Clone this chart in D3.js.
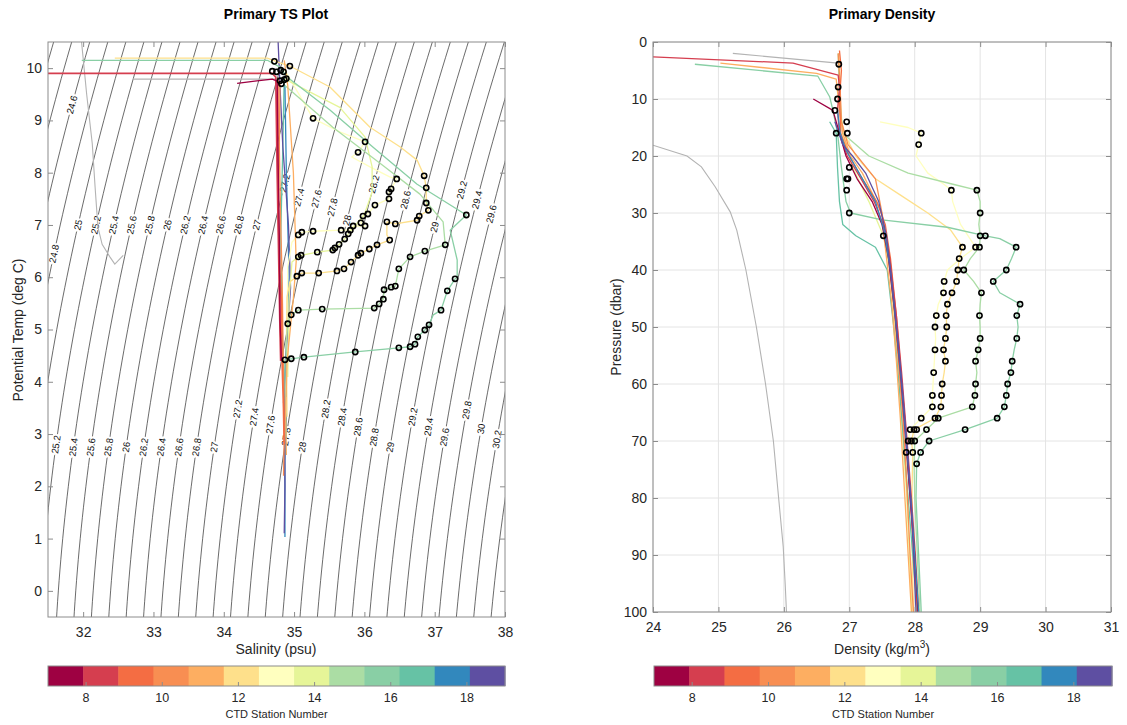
<!DOCTYPE html>
<html>
<head>
<meta charset="utf-8">
<script src="https://cdn.jsdelivr.net/npm/d3@7"></script>
<style>
  body { margin: 0; background: #fff; }
  svg { font-family: "Liberation Sans", Arial, Helvetica, sans-serif; }
</style>
</head>
<body>
<svg id="chart" width="1127" height="725"></svg>
<script>
// ---- colormap / stations ----
const stationColors = ["#9e0142", "#d53e4f", "#f46d43", "#f88e52", "#fdae61", "#fee08b", "#ffffbf",
                       "#e6f598", "#abdda4", "#89cfa5", "#66c2a5", "#3288bd", "#5e4fa2"];
const stationTicks = [8, 10, 12, 14, 16, 18];
const grayColor = "#b3b3b3";

// isopycnal levels (sigma-theta) and label positions [level, temp]
const isoLevels = [24.0, 24.2, 24.4, 24.6, 24.8, 25.0, 25.2, 25.4, 25.6, 25.8, 26.0, 26.2, 26.4, 26.6, 26.8,
                   27.0, 27.2, 27.4, 27.6, 27.8, 28.0, 28.2, 28.4, 28.6, 28.8, 29.0, 29.2, 29.4, 29.6, 29.8,
                   30.0, 30.2, 30.4, 30.6];
const isoLabels = [[24.6, 9.3], [24.8, 6.45], [25, 7.0], [25.2, 7.0], [25.4, 7.0], [25.6, 7.0], [25.8, 7.0],
                   [26, 7.0], [26.2, 7.0], [26.4, 7.0], [26.6, 7.0], [26.8, 7.0], [27, 7.0], [27.2, 7.8],
                   [27.4, 7.53], [27.6, 7.5], [27.8, 7.34], [28, 7.09], [28.2, 7.78], [28.6, 7.48], [29, 6.96],
                   [29.2, 7.67], [29.4, 7.48], [29.6, 7.21],
                   [25.2, 2.8], [25.4, 2.75], [25.6, 2.75], [25.8, 2.75], [26, 2.75], [26.2, 2.75], [26.4, 2.75],
                   [26.6, 2.75], [26.8, 2.75], [27, 2.75], [27.2, 3.48], [27.4, 3.33], [27.6, 3.18], [27.8, 2.95],
                   [28, 2.75], [28.2, 3.48], [28.4, 3.33], [28.6, 3.14], [28.8, 2.94], [29, 2.75], [29.2, 3.33],
                   [29.4, 3.14], [29.6, 2.94], [29.8, 3.46], [30, 3.1], [30.2, 2.9]];

// ---- TS profiles [salinity, potential temp] ----
const tsSt7 = [[34.19,9.71],[34.44,9.75],[34.69,9.79],[34.76,9.75],[34.77,8.5],[34.79,6.8],[34.80,5.2],[34.82,4.4]];
const tsSt8 = [[31.3,9.90],[34.69,9.90],[34.74,9.83],[34.76,8.0],[34.78,6.5],[34.80,5.0],[34.81,4.4]];
const tsSt9 = [[34.77,9.8],[34.77,8.0],[34.78,7.0],[34.80,6.0],[34.82,5.5],[34.83,4.4],[34.85,3.5],[34.86,2.8]];
const tsSt10 = [[34.80,9.75],[34.79,8.5],[34.81,7.0],[34.83,6.0],[34.84,5.0],[34.85,4.0],[34.86,3.0],[34.85,2.2]];
const tsSt11 = [[34.86,10.15],[34.91,9.67],[34.99,8.0],[35.03,6.3],[34.99,5.6],[34.90,4.4],[34.88,3.4],[34.89,2.6]];
const tsSt12 = [[32.45,10.19],[34.62,10.19],[34.80,10.10],[34.94,10.04],[35.51,9.64],[36.08,8.87],[36.51,8.49],
                [36.75,8.24],[36.85,7.94],[36.88,7.71],[36.88,7.42],[36.91,7.28],[36.78,7.17],[36.75,7.09],
                [36.44,7.02],[36.32,7.06],[36.32,6.81],[36.36,6.71],[36.18,6.62],[36.07,6.54],[35.95,6.46],
                [35.91,6.42],[35.81,6.29],[35.71,6.16],[35.61,6.12],[35.35,6.08],[35.11,6.08],[35.04,6.02],
                [34.94,5.91],[34.90,5.62],[34.89,4.67],[34.90,3.33]];
const tsSt13 = [[34.86,9.98],[35.27,9.04],[35.65,8.78],[36.01,8.59],[35.91,8.39],[35.82,8.30],[36.08,8.11],
                [36.36,7.92],[36.46,7.88],[36.38,7.69],[36.35,7.63],[36.35,7.50],[36.15,7.38],[36.05,7.21],
                [35.98,7.17],[35.95,7.04],[36.01,6.98],[35.84,6.98],[35.80,6.90],[35.67,6.90],[35.27,6.88],
                [35.11,6.86],[35.06,6.81],[34.97,6.67],[34.91,6.20],[34.90,5.05]];
const tsSt14 = [[34.87,9.79],[35.65,9.25],[36.01,8.68],[36.11,8.11],[36.11,7.63],[36.0,7.2],[35.77,6.83],
                [35.72,6.73],[35.64,6.63],[35.58,6.56],[35.55,6.52],[35.33,6.48],[35.10,6.42],[35.06,6.39],
                [34.97,6.29],[34.93,5.62],[34.91,4.09]];
const tsSt15 = [[34.87,9.67],[35.55,8.87],[36.25,8.15],[36.79,7.59],[37.12,7.06],[37.15,6.62],[36.86,6.50],
                [36.65,6.39],[36.49,6.16],[36.44,5.83],[36.38,5.81],[36.28,5.76],[36.27,5.58],[36.21,5.49],
                [36.14,5.41],[35.40,5.39],[35.06,5.37],[34.96,5.28],[34.91,5.11],[34.89,4.76],[34.89,3.71]];
const tsSt16 = [[31.98,10.15],[34.62,10.15],[34.80,10.02],[34.90,9.83],[35.51,9.20],[36.12,8.49],[36.75,7.78],
                [37.45,7.19],[37.22,6.9],[37.32,6.33],[37.32,6.0],[37.29,5.97],[37.18,5.74],[37.09,5.37],
                [36.98,5.28],[36.92,5.09],[36.86,4.99],[36.76,4.86],[36.72,4.72],[36.65,4.67],[36.49,4.65],
                [35.87,4.57],[35.14,4.47],[34.96,4.44],[34.87,4.42],[34.87,3.9],[34.89,2.94]];
const tsSt17 = [[34.86,9.83],[34.84,8.5],[34.81,6.8],[34.83,5.2],[34.85,4.0],[34.87,3.3],[34.88,2.6]];
const tsSt18 = [[34.87,9.67],[34.89,8.0],[34.93,6.0],[34.90,5.0],[34.87,4.2],[34.85,3.6],[34.89,3.3],[34.87,2.5],[34.87,1.03]];
const tsSt19 = [[34.77,10.6],[34.80,9.64],[34.84,8.5],[34.92,7.0],[34.95,5.8],[34.90,4.8],[34.86,3.8],[34.87,2.0],[34.86,1.1]];
const tsGrayA = [[31.97,10.6],[32.05,9.50],[32.13,8.55],[32.17,7.72],[32.21,6.96],[32.27,6.63],[32.38,6.39],[32.45,6.25],[32.57,6.42]];
const tsGrayB = [[32.71,9.79],[34.80,9.79]];

const tsMarks = [
  [34.72,10.13],[34.94,10.04],[34.69,9.94],[34.75,9.93],[34.81,9.96],[34.85,9.93],[34.80,9.76],[34.86,9.78],[34.89,9.80],[34.82,9.70],
  [35.27,9.04],[36.01,8.59],[35.91,8.39],
  [36.85,7.94],[36.46,7.88],[36.88,7.71],[36.38,7.69],[36.35,7.63],[36.35,7.50],[36.88,7.42],[36.91,7.28],[36.15,7.38],
  [36.05,7.21],[35.98,7.17],[36.78,7.17],[36.75,7.09],[36.32,7.06],[36.44,7.02],[35.95,7.04],[36.01,6.98],[35.84,6.98],
  [35.80,6.90],[35.67,6.90],[35.27,6.88],[35.11,6.86],[35.06,6.81],
  [35.77,6.83],[35.72,6.73],[35.64,6.63],[35.58,6.56],[35.55,6.52],[35.33,6.48],[35.10,6.42],[35.06,6.39],
  [36.36,6.71],[36.18,6.62],[36.07,6.54],[35.95,6.46],[35.91,6.42],[35.81,6.29],[35.71,6.16],[35.61,6.12],[35.35,6.08],
  [35.11,6.08],[35.04,6.02],
  [37.45,7.19],[37.15,6.62],[36.86,6.50],[36.65,6.39],[36.49,6.16],[37.29,5.97],[37.18,5.74],[37.09,5.37],[36.44,5.83],
  [36.38,5.81],[36.28,5.76],[36.27,5.58],[36.21,5.49],[36.14,5.41],[35.40,5.39],[35.06,5.37],[34.96,5.28],[34.91,5.11],
  [36.92,5.09],[36.86,4.99],[36.76,4.86],[36.72,4.72],[36.65,4.67],[36.49,4.65],[35.87,4.57],[35.14,4.47],[34.96,4.44],[34.87,4.42]
];

// ---- density profiles [density, pressure] ----
const denSt7 = [[26.45,10],[26.75,12],[26.85,16],[26.95,20],[27.12,24],[27.35,28],[27.5,32],[27.6,38],[27.7,48],[27.78,58],[27.85,68],[27.93,80],[28.0,90],[28.05,100]];
const denSt8 = [[24.0,2.6],[26.14,3.7],[26.83,5.8],[26.85,8],[26.82,12],[26.85,16],[26.97,20],[27.18,24],[27.38,28],[27.52,32],[27.62,38],[27.72,48],[27.8,58],[27.87,68],[27.95,80],[28.01,90],[28.06,100]];
const denSt9 = [[26.85,1.5],[26.88,5],[26.85,10],[26.87,16],[27.0,20],[27.2,24],[27.42,28],[27.55,32],[27.63,38],[27.72,48],[27.79,58],[27.86,68],[27.93,80],[27.99,90],[28.04,100]];
const denSt10 = [[26.83,2],[26.86,8],[26.88,14],[26.98,18],[27.4,24],[27.5,30],[27.58,36],[27.68,46],[27.75,56],[27.82,66],[27.88,78],[27.93,90],[27.98,100]];
const denSt11 = [[25.03,3.7],[26.5,5.5],[26.8,6.5],[26.85,12],[26.9,16],[27.02,20],[27.2,23],[27.5,30],[27.55,36],[27.65,46],[27.72,56],[27.78,66],[27.84,78],[27.9,90],[27.95,100]];
const denSt12 = [[26.84,2],[26.86,7],[26.85,12],[26.92,16],[27.1,20],[27.4,24],[27.8,27],[28.2,30],[28.55,33],[28.73,36],[28.68,38],[28.66,40],
                 [28.64,42],[28.57,44],[28.50,46],[28.48,48],[28.49,50],[28.47,52],[28.44,54],[28.47,56],[28.45,58],[28.42,60],[28.41,62],
                 [28.40,64],[28.31,66],[27.99,68],[27.95,70],[27.97,72],[27.96,78],[27.96,88],[27.98,100]];
const denSt13 = [[27.47,14],[27.9,15],[28.10,16],[28.06,18],[28.02,20],[28.2,23],[28.45,25],[28.56,26],[28.58,28],[28.7,32],[28.93,36],[28.7,38],
                 [28.5,40],[28.45,42],[28.44,44],[28.36,46],[28.33,48],[28.31,50],[28.32,52],[28.31,54],[28.30,56],[28.29,58],[28.28,60],
                 [28.27,62],[28.27,64],[28.10,66],[27.93,68],[27.90,70],[27.87,72],[27.88,80],[27.92,90],[27.95,100]];
const denSt14 = [[26.84,2],[26.86,10],[26.9,16],[27.05,22],[27.3,28],[27.52,34],[27.62,40],[27.7,50],[27.76,60],[27.82,70],[27.88,80],[27.92,90],[27.96,100]];
const denSt15 = [[26.83,2],[26.85,10],[26.9,16],[27.3,20],[27.9,23],[28.6,25],[28.95,26],[29.0,28],[29.0,30],[28.98,32],[29.0,34],[28.99,36],
                 [28.85,38],[28.75,40],[28.9,42],[29.02,44],[29.0,46],[28.99,48],[29.0,50],[29.0,52],[28.97,54],[28.93,56],[28.95,58],
                 [28.93,60],[28.92,62],[28.88,64],[28.36,66],[28.18,68],[28.0,70],[27.99,74],[28.0,80],[28.04,90],[28.08,100]];
const denSt16 = [[24.64,3.9],[26.52,6],[26.7,9.6],[26.75,12],[26.82,16],[26.88,22],[26.95,28],[27.02,30],[27.5,31.2],[28.5,32.5],[29.08,34],
                 [29.3,34.5],[29.55,36],[29.48,38],[29.40,40],[29.20,42],[29.3,44],[29.61,46],[29.56,48],[29.58,50],[29.56,52],[29.52,54],
                 [29.49,56],[29.47,58],[29.42,60],[29.40,62],[29.37,64],[29.26,66],[28.77,68],[28.22,70],[28.09,72],[28.03,74],
                 [28.02,80],[28.06,90],[28.1,100]];
const denSt17 = [[26.7,14],[26.8,16],[26.82,22],[26.85,28],[26.9,32],[27.1,34],[27.4,36],[27.58,40],[27.68,50],[27.76,60],[27.83,70],[27.9,80],[27.97,90],[28.04,100]];
const denSt18 = [[26.82,12],[26.86,16],[26.95,19],[27.15,23],[27.4,28],[27.53,33],[27.63,40],[27.72,50],[27.8,60],[27.87,70],[27.94,80],[28.0,90],[28.06,100]];
const denSt19 = [[26.78,14],[26.9,18],[27.05,20],[27.25,23],[27.45,28],[27.57,34],[27.65,42],[27.74,52],[27.82,62],[27.89,72],[27.96,84],[28.02,100]];
const denGrayA = [[25.22,2.0],[26.83,3.7]];
const denGrayB = [[24.0,18.1],[24.52,20],[24.74,21.9],[24.95,25.4],[25.18,29.8],[25.28,33],[25.42,40],[25.58,50],[25.72,60],
                  [25.84,70],[25.92,80],[25.99,88.5],[26.02,95],[26.04,100]];

const denMarks = [
  [26.84,3.9],[26.83,7.9],[26.82,10],[26.78,12],[26.96,14],[26.80,16],[26.97,16],[27.0,22],[26.96,24],[26.98,24],[26.96,26],[27.0,30],
  [28.10,16],[28.06,18],[28.56,26],[28.95,26],[29.0,30],
  [27.52,34],[29.0,34],[29.08,34],
  [28.73,36],[28.93,36],[28.99,36],[29.55,36],
  [28.68,38],
  [28.66,40],[28.75,40],[29.40,40],
  [28.45,42],[28.64,42],[29.20,42],
  [28.44,44],[28.57,44],[29.02,44],
  [28.50,46],[29.61,46],
  [28.33,48],[28.48,48],[28.99,48],[29.56,48],
  [28.31,50],[28.49,50],
  [28.47,52],[29.0,52],[29.56,52],
  [28.31,54],[28.44,54],[28.97,54],
  [28.47,56],[28.93,56],[29.49,56],
  [28.29,58],[29.47,58],
  [28.42,60],[28.93,60],[29.42,60],
  [28.27,62],[28.41,62],[28.92,62],[29.40,62],
  [28.27,64],[28.40,64],[28.88,64],[29.37,64],
  [28.10,66],[28.31,66],[28.36,66],[29.26,66],
  [27.93,68],[27.99,68],[28.03,68],[28.18,68],[28.77,68],
  [27.90,70],[27.95,70],[28.0,70],[28.22,70],
  [27.87,72],[27.97,72],[28.09,72],
  [28.03,74]
];

// drawing order: bundle behind, marker stations, then reds on top
const tsProfiles = [[17, tsSt17], [18, tsSt18], [19, tsSt19], [13, tsSt13], [14, tsSt14], [12, tsSt12], [15, tsSt15],
                    [16, tsSt16], [11, tsSt11], [10, tsSt10], [9, tsSt9], [8, tsSt8], [7, tsSt7]];
const denProfiles = [[13, denSt13], [14, denSt14], [12, denSt12], [15, denSt15], [16, denSt16], [17, denSt17], [11, denSt11],
                     [10, denSt10], [9, denSt9], [8, denSt8], [7, denSt7], [18, denSt18], [19, denSt19]];

// ---- setup ----
const svg = d3.select("#chart");
const axisGray = "#8c8c8c";
const textDark = "#262626";
const stColor = d3.scaleQuantize().domain([7, 19]).range(stationColors);

const tsX = d3.scaleLinear().domain([31.5, 38]).range([48, 505]);
const tsY = d3.scaleLinear().domain([-0.5, 10.5]).range([617, 42]);
const dX = d3.scaleLinear().domain([24, 31]).range([653, 1111]);
const dY = d3.scaleLinear().domain([0, 100]).range([42, 612]);

// UNESCO EOS-80 density anomaly at surface pressure
function sigma0(S, T) {
    const rw = 999.842594 + 6.793952e-2 * T - 9.095290e-3 * T * T + 1.001685e-4 * T ** 3 - 1.120083e-6 * T ** 4 + 6.536332e-9 * T ** 5;
    const A = 8.24493e-1 - 4.0899e-3 * T + 7.6438e-5 * T * T - 8.2467e-7 * T ** 3 + 5.3875e-9 * T ** 4;
    const B = -5.72466e-3 + 1.0227e-4 * T - 1.6546e-6 * T * T;
    return rw + A * S + B * Math.pow(S, 1.5) + 4.8314e-4 * S * S - 1000;
}
function salAt(level, T) {
    let lo = 20, hi = 45;
    for (let i = 0; i < 50; i++) {
        const mid = (lo + hi) / 2;
        if (sigma0(mid, T) < level) lo = mid; else hi = mid;
    }
    return (lo + hi) / 2;
}

const defs = svg.append("defs");
defs.append("clipPath").attr("id", "clipTS").append("rect").attr("x", 48).attr("y", 42).attr("width", 457).attr("height", 575);
defs.append("clipPath").attr("id", "clipDen").append("rect").attr("x", 653).attr("y", 42).attr("width", 458).attr("height", 570);

function drawGrid(x, y, xTicks, yTicks) {
    const [l, r] = x.range();
    const top = Math.min(...y.range()), bot = Math.max(...y.range());
    const g = svg.append("g");
    g.selectAll(".gx").data(xTicks).enter().append("line")
        .attr("x1", d => x(d)).attr("x2", d => x(d)).attr("y1", top).attr("y2", bot)
        .attr("stroke", "#e4e4e4").attr("stroke-width", 1);
    g.selectAll(".gy").data(yTicks).enter().append("line")
        .attr("x1", l).attr("x2", r).attr("y1", d => y(d)).attr("y2", d => y(d))
        .attr("stroke", "#e4e4e4").attr("stroke-width", 1);
}

function drawAxes(x, y, xTicks, yTicks) {
    const [l, r] = x.range();
    const top = Math.min(...y.range()), bot = Math.max(...y.range());
    const style = sel => {
        sel.select(".domain").remove();
        sel.selectAll(".tick line").attr("stroke", axisGray);
        sel.selectAll(".tick text").attr("fill", textDark).style("font-size", "14px")
            .style("font-family", '"Liberation Sans", Arial, sans-serif');
    };
    svg.append("g").attr("transform", `translate(0,${bot})`)
        .call(d3.axisBottom(x).tickValues(xTicks).tickSize(-5).tickPadding(10).tickFormat(d3.format("d"))).call(style);
    svg.append("g").attr("transform", `translate(0,${top})`)
        .call(d3.axisTop(x).tickValues(xTicks).tickSize(-5).tickFormat("")).call(style);
    svg.append("g").attr("transform", `translate(${l},0)`)
        .call(d3.axisLeft(y).tickValues(yTicks).tickSize(-5).tickPadding(6).tickFormat(d3.format("d"))).call(style);
    svg.append("g").attr("transform", `translate(${r},0)`)
        .call(d3.axisRight(y).tickValues(yTicks).tickSize(-5).tickFormat("")).call(style);
    svg.append("rect").attr("x", l).attr("y", top).attr("width", r - l).attr("height", bot - top)
        .attr("fill", "none").attr("stroke", axisGray).attr("stroke-width", 1);
}

function drawColorbar(x0, x1, title) {
    const cx = d3.scaleLinear().domain([7, 19]).range([x0, x1]);
    const step = 12 / stationColors.length;
    const g = svg.append("g");
    g.selectAll("rect.cb").data(stationColors).enter().append("rect")
        .attr("x", (d, i) => cx(7 + i * step)).attr("width", (d, i) => cx(7 + (i + 1) * step) - cx(7 + i * step) + 0.5)
        .attr("y", 666).attr("height", 20).attr("fill", d => d);
    g.append("rect").attr("x", x0).attr("y", 666).attr("width", x1 - x0).attr("height", 20)
        .attr("fill", "none").attr("stroke", axisGray).attr("stroke-width", 1);
    g.selectAll("line.cbt").data(stationTicks).enter().append("line")
        .attr("x1", d => cx(d)).attr("x2", d => cx(d)).attr("y1", 686).attr("y2", 682)
        .attr("stroke", axisGray).attr("stroke-width", 1);
    g.selectAll("text.cbl").data(stationTicks).enter().append("text")
        .attr("x", d => cx(d)).attr("y", 702).attr("text-anchor", "middle")
        .attr("fill", textDark).style("font-size", "12.5px").text(d => d);
    g.append("text").attr("x", (x0 + x1) / 2).attr("y", 718).attr("text-anchor", "middle")
        .attr("fill", textDark).style("font-size", "11px").text(title);
}

// ================= TS PLOT =================
const tsTicksX = [32, 33, 34, 35, 36, 37, 38];
const tsTicksY = [0, 1, 2, 3, 4, 5, 6, 7, 8, 9, 10];

const tsPlot = svg.append("g").attr("clip-path", "url(#clipTS)");
const tempSteps = d3.range(-0.8, 10.81, 0.2);
const isoLine = d3.line().x(d => tsX(d[0])).y(d => tsY(d[1]));
tsPlot.selectAll("path.iso").data(isoLevels).enter().append("path")
    .attr("d", lev => isoLine(tempSteps.map(t => [salAt(lev, t), t])))
    .attr("fill", "none").attr("stroke", "#2b2b2b").attr("stroke-width", 0.7);

isoLabels.forEach(([lev, t]) => {
    const s = salAt(lev, t);
    const px = tsX(s), py = tsY(t);
    const a = [tsX(salAt(lev, t - 0.1)), tsY(t - 0.1)];
    const b = [tsX(salAt(lev, t + 0.1)), tsY(t + 0.1)];
    const ang = Math.atan2(b[1] - a[1], b[0] - a[0]) * 180 / Math.PI;
    tsPlot.append("text")
        .attr("transform", `translate(${px},${py}) rotate(${ang})`)
        .attr("text-anchor", "middle").attr("dy", "0.35em")
        .attr("fill", "#111").style("font-size", "9.5px")
        .attr("stroke", "#fff").attr("stroke-width", 4).attr("paint-order", "stroke")
        .text(d3.format("")(lev));
});

const tsLine = d3.line().x(d => tsX(d[0])).y(d => tsY(d[1]));
[tsGrayA, tsGrayB].forEach(p => {
    tsPlot.append("path").datum(p).attr("d", tsLine).attr("fill", "none").attr("stroke", grayColor).attr("stroke-width", 1.1);
});
tsProfiles.forEach(([st, p]) => {
    tsPlot.append("path").datum(p).attr("d", tsLine).attr("fill", "none")
        .attr("stroke", stColor(st)).attr("stroke-width", (st === 8 || st === 9) ? 1.8 : 1.3)
        .attr("stroke-linejoin", "round");
});
tsPlot.selectAll("circle.m").data(tsMarks).enter().append("circle")
    .attr("cx", d => tsX(d[0])).attr("cy", d => tsY(d[1])).attr("r", 2.6)
    .attr("fill", "none").attr("stroke", "#000").attr("stroke-width", 1.6);

drawAxes(tsX, tsY, tsTicksX, tsTicksY);
svg.append("text").attr("x", 276).attr("y", 19).attr("text-anchor", "middle").attr("fill", "#000")
    .style("font-size", "14px").style("font-weight", "bold").text("Primary TS Plot");
svg.append("text").attr("x", 276).attr("y", 654).attr("text-anchor", "middle").attr("fill", textDark)
    .style("font-size", "14px").text("Salinity (psu)");
svg.append("text").attr("transform", "translate(23,330) rotate(-90)").attr("text-anchor", "middle").attr("fill", textDark)
    .style("font-size", "14px").text("Potential Temp (deg C)");
drawColorbar(48, 505, "CTD Station Number");

// ================= DENSITY PLOT =================
const denTicksX = [24, 25, 26, 27, 28, 29, 30, 31];
const denTicksY = [0, 10, 20, 30, 40, 50, 60, 70, 80, 90, 100];
drawGrid(dX, dY, denTicksX, denTicksY);

const denPlot = svg.append("g").attr("clip-path", "url(#clipDen)");
const denLine = d3.line().x(d => dX(d[0])).y(d => dY(d[1]));
[denGrayA, denGrayB].forEach(p => {
    denPlot.append("path").datum(p).attr("d", denLine).attr("fill", "none").attr("stroke", grayColor).attr("stroke-width", 1.1);
});
denProfiles.forEach(([st, p]) => {
    denPlot.append("path").datum(p).attr("d", denLine).attr("fill", "none")
        .attr("stroke", stColor(st)).attr("stroke-width", 1.3).attr("stroke-linejoin", "round");
});
denPlot.selectAll("circle.m").data(denMarks).enter().append("circle")
    .attr("cx", d => dX(d[0])).attr("cy", d => dY(d[1])).attr("r", 2.6)
    .attr("fill", "none").attr("stroke", "#000").attr("stroke-width", 1.6);

drawAxes(dX, dY, denTicksX, denTicksY);
svg.append("text").attr("x", 882).attr("y", 19).attr("text-anchor", "middle").attr("fill", "#000")
    .style("font-size", "14px").style("font-weight", "bold").text("Primary Density");
const dl = svg.append("text").attr("x", 882).attr("y", 654).attr("text-anchor", "middle").attr("fill", textDark)
    .style("font-size", "14px");
dl.append("tspan").text("Density (kg/m");
dl.append("tspan").attr("dy", -6).style("font-size", "10px").text("3");
dl.append("tspan").attr("dy", 6).text(")");
svg.append("text").attr("transform", "translate(621,327) rotate(-90)").attr("text-anchor", "middle").attr("fill", textDark)
    .style("font-size", "14px").text("Pressure (dbar)");
drawColorbar(654, 1112, "CTD Station Number");
</script>
</body>
</html>
